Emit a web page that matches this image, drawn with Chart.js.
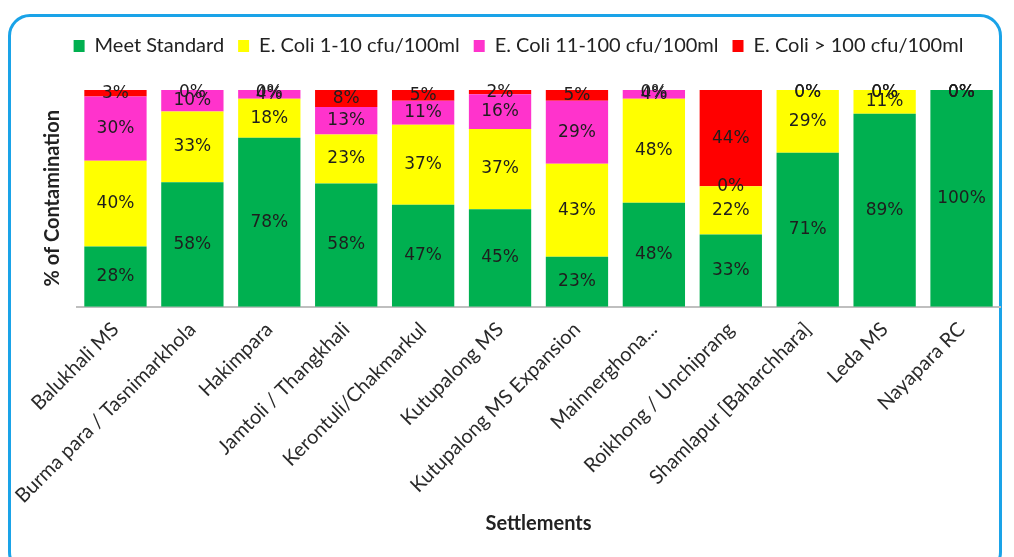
<!DOCTYPE html>
<html>
<head>
<meta charset="utf-8">
<script src="https://cdn.jsdelivr.net/npm/chart.js@4.4.0/dist/chart.umd.min.js"></script>
<style>
  html, body { margin: 0; padding: 0; background: #fff; }
  #wrap { position: relative; width: 1014px; height: 557px; overflow: hidden; }
  #frame {
    position: absolute; left: 8px; top: 14px; width: 994px; height: 560px;
    border: 3px solid #1aa3e8; border-radius: 22px; box-sizing: border-box;
  }
  canvas { position: absolute; left: 0; top: 0; }
</style>
</head>
<body>
<div id="wrap">
  <div id="frame"></div>
  <canvas id="chart" width="1014" height="557"></canvas>
</div>
<script>
// Settlements and % of samples per contamination level
const settlements = [
    'Balukhali MS', 'Burma para / Tasnimarkhola', 'Hakimpara', 'Jamtoli / Thangkhali',
    'Kerontuli/Chakmarkul', 'Kutupalong MS', 'Kutupalong MS Expansion', 'Mainnerghona...',
    'Roikhong / Unchiprang', 'Shamlapur [Baharchhara]', 'Leda MS', 'Nayapara RC'
];
const meetStandard = [28, 58, 78, 58, 47, 45, 23, 48, 33, 71, 89, 100];
const ecoli1to10   = [40, 33, 18, 23, 37, 37, 43, 48, 22, 29, 11, 0];
const ecoli11to100 = [30, 10, 4, 13, 11, 16, 29, 4, 0, 0, 0, 0];
const ecoliOver100 = [3, 0, 0, 8, 5, 2, 5, 0, 44, 0, 0, 0];

const seriesNames = ['Meet Standard', 'E. Coli 1-10 cfu/100ml', 'E. Coli 11-100 cfu/100ml', 'E. Coli > 100 cfu/100ml'];
const seriesColors = ['#00b050', '#ffff00', '#ff33cc', '#ff0000'];
const seriesValues = [meetStandard, ecoli1to10, ecoli11to100, ecoliOver100];

// 100% stacked: scale each column to its total, keep raw numbers for the labels
const totals = settlements.map((s, i) => seriesValues.reduce((sum, arr) => sum + arr[i], 0));

const datasets = seriesValues.map((vals, k) => ({
    label: seriesNames[k],
    data: vals.map((v, i) => v / totals[i] * 100),
    raw: vals,
    backgroundColor: seriesColors[k],
    borderWidth: 0,
    barPercentage: 0.81,
    categoryPercentage: 1.0
}));

// Extra space under the legend
const legendGap = {
    id: 'legendGap',
    beforeInit(chart) {
        const fit = chart.legend.fit;
        chart.legend.fit = function () {
            fit.bind(chart.legend)();
            this.height += 24;
        };
    }
};

// Draw the percentage text in the middle of every segment
const segmentLabels = {
    id: 'segmentLabels',
    afterDatasetsDraw(chart) {
        const ctx = chart.ctx;
        ctx.save();
        ctx.font = '17px "DejaVu Sans"';
        ctx.fillStyle = '#1e1e1e';
        ctx.textAlign = 'center';
        ctx.textBaseline = 'middle';
        chart.data.datasets.forEach((ds, k) => {
            const meta = chart.getDatasetMeta(k);
            meta.data.forEach((bar, i) => {
                let y = (bar.y + bar.base) / 2;
                if (ds.raw[i] === 0 && y < chart.chartArea.top + 4) y = chart.chartArea.top + 3;
                ctx.fillText(ds.raw[i] + '%', bar.x, y);
            });
        });
        ctx.restore();
    }
};

new Chart(document.getElementById('chart'), {
    type: 'bar',
    data: { labels: settlements, datasets },
    options: {
        responsive: false,
        animation: false,
        layout: { padding: { left: 37, right: 14, top: 22, bottom: 17 } },
        plugins: {
            legend: {
                position: 'top',
                labels: {
                    boxWidth: 11, boxHeight: 12, padding: 14,
                    color: '#222',
                    font: { family: 'Lato', size: 20 }
                }
            },
            tooltip: { enabled: false }
        },
        scales: {
            x: {
                stacked: true,
                grid: { display: false },
                border: { color: '#bfbfbf', width: 2 },
                ticks: {
                    minRotation: 45, maxRotation: 45,
                    color: '#2a2a2a',
                    font: { family: 'Lato', size: 20 }
                },
                title: {
                    display: true, text: 'Settlements', color: '#222',
                    font: { family: 'Lato', size: 20, weight: 'bold' },
                    padding: { top: 1 }
                }
            },
            y: {
                stacked: true,
                min: 0, max: 100,
                grid: { display: false },
                border: { display: false },
                ticks: { display: false },
                title: {
                    display: true, text: '% of Contamination', color: '#222',
                    font: { family: 'Lato', size: 20, weight: 'bold' }
                }
            }
        }
    },
    plugins: [legendGap, segmentLabels]
});
</script>
</body>
</html>
